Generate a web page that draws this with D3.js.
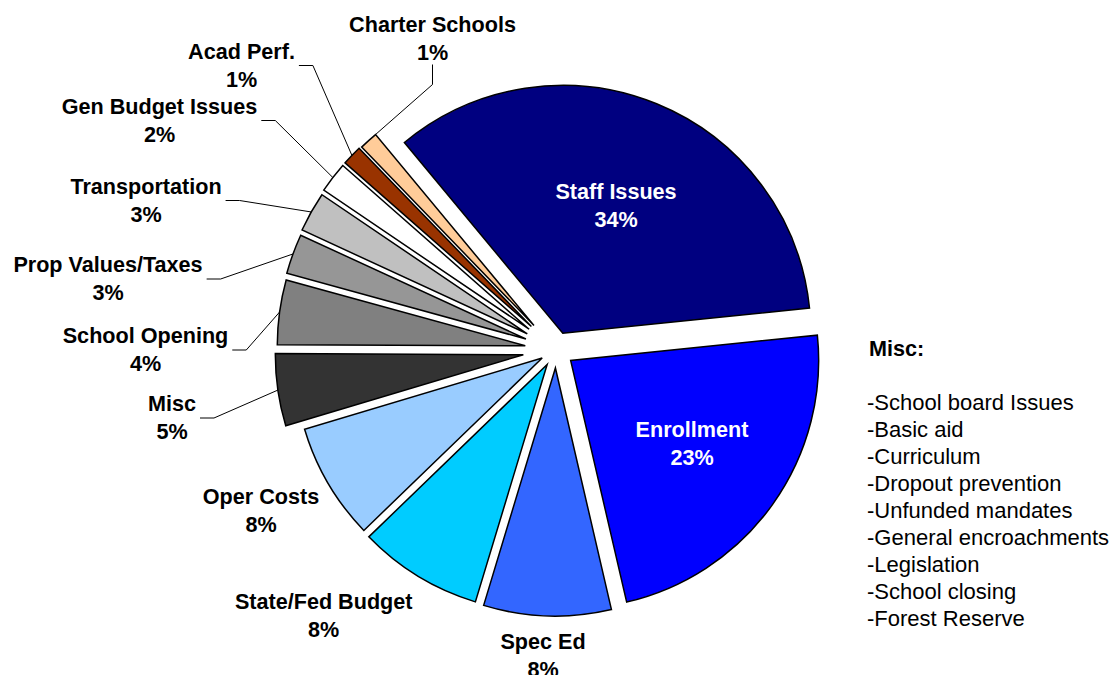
<!DOCTYPE html>
<html>
<head>
<meta charset="utf-8">
<style>
  body { margin: 0; background: #fff; font-family: "Liberation Sans", Arial, sans-serif; }
  svg { display: block; }
</style>
</head>
<body>
<script src="https://d3js.org/d3.v7.min.js"></script>
<script>
// slices, clockwise starting at the upper-left edge of "Staff Issues"
var categories = ["Staff Issues", "Enrollment", "Spec Ed", "State/Fed Budget", "Oper Costs", "Misc",
  "School Opening", "Prop Values/Taxes", "Transportation", "Gen Budget Issues", "Acad Perf.", "Charter Schools"];
var shares = [34.4, 23.0, 8.3, 8.1, 7.6, 4.7, 4.2, 2.6, 2.6, 2.0, 1.3, 1.2];

// side note
var noteTitle = "Misc:";
var noteItems = ["-School board Issues", "-Basic aid", "-Curriculum", "-Dropout prevention",
  "-Unfunded mandates", "-General encroachments", "-Legislation", "-School closing", "-Forest Reserve"];

// styling
var colors = ["#000080", "#0000ff", "#3366ff", "#00ccff", "#99ccff", "#333333",
  "#808080", "#969696", "#c0c0c0", "#ffffff", "#993300", "#ffcc99"];
var explode = [18, 18, 18, 17, 16, 33, 31, 32, 33, 34, 34, 33];

// label layout: centre x, first baseline, leader kind, text colour
var labelLayout = {
  "Staff Issues":      { x: 616,   y: 199,   fill: "#fff" },
  "Enrollment":        { x: 692,   y: 437,   fill: "#fff" },
  "Spec Ed":           { x: 543,   y: 649 },
  "State/Fed Budget":  { x: 323.7, y: 608.5 },
  "Oper Costs":        { x: 261,   y: 503.5 },
  "Misc":              { x: 172,   y: 411,   lead: "right" },
  "School Opening":    { x: 145.5, y: 343,   lead: "right" },
  "Prop Values/Taxes": { x: 108,   y: 272,   lead: "right" },
  "Transportation":    { x: 146,   y: 193.5, lead: "right" },
  "Gen Budget Issues": { x: 159.5, y: 113.5, lead: "right" },
  "Acad Perf.":        { x: 241.5, y: 58.5,  lead: "right" },
  "Charter Schools":   { x: 432.5, y: 31.5,  lead: "down" }
};

var width = 1112, height = 675;
var cx = 556, cy = 350, radius = 248;
var startDeg = -39.7;
var lineGap = 28;

var svg = d3.select("body").append("svg")
    .attr("width", width)
    .attr("height", height);

var total = d3.sum(shares);
var data = categories.map(function(c, i){ return { name: c, value: shares[i], i: i }; });

var pie = d3.pie()
    .sort(null)
    .value(function(d){ return d.value; })
    .startAngle(startDeg * Math.PI / 180)
    .endAngle(startDeg * Math.PI / 180 + 2 * Math.PI);

var arc = d3.arc().innerRadius(0).outerRadius(radius);

var arcs = pie(data);

function mid(d){ return (d.startAngle + d.endAngle) / 2; }

var g = svg.append("g").attr("transform", "translate(" + cx + "," + cy + ")");

g.selectAll(".slice")
    .data(arcs)
  .enter().append("path")
    .attr("class", "slice")
    .attr("transform", function(d){
      var o = explode[d.data.i], a = mid(d);
      return "translate(" + (o * Math.sin(a)) + "," + (-o * Math.cos(a)) + ")";
    })
    .attr("d", arc)
    .style("fill", function(d){ return colors[d.data.i]; })
    .style("stroke", "#000")
    .style("stroke-width", 1.5)
    .style("stroke-linejoin", "miter");

// labels
var labels = svg.selectAll(".lbl")
    .data(arcs)
  .enter().append("text")
    .attr("class", "lbl")
    .attr("text-anchor", "middle")
    .style("font-size", "21.6px")
    .style("font-weight", "bold")
    .style("fill", function(d){ return labelLayout[d.data.name].fill || "#000"; });

labels.append("tspan")
    .attr("x", function(d){ return labelLayout[d.data.name].x; })
    .attr("y", function(d){ return labelLayout[d.data.name].y; })
    .text(function(d){ return d.data.name; });

labels.append("tspan")
    .attr("x", function(d){ return labelLayout[d.data.name].x; })
    .attr("y", function(d){ return labelLayout[d.data.name].y + lineGap; })
    .text(function(d){ return Math.round(d.data.value / total * 100) + "%"; });

// leader lines
labels.each(function(d){
  var L = labelLayout[d.data.name];
  if (!L.lead) return;
  var bb = this.getBBox();
  var a = L.lead === "down" ? d.endAngle - 0.015 : mid(d);
  var rr = radius + explode[d.data.i];
  var ex = cx + rr * Math.sin(a), ey = cy - rr * Math.cos(a);
  var pts;
  if (L.lead === "right") {
    var sx = bb.x + bb.width + 4, sy = L.y + 7;
    pts = [[sx, sy], [sx + 14, sy], [ex, ey]];
  } else {
    var sx2 = L.x, sy2 = L.y + lineGap + 5;
    pts = [[sx2, sy2], [sx2, sy2 + 20], [ex, ey]];
  }
  svg.append("path")
      .attr("class", "leader")
      .attr("d", d3.line()(pts))
      .style("fill", "none")
      .style("stroke", "#000")
      .style("stroke-width", 1);
});

// note on the right
svg.append("text")
    .attr("x", 869)
    .attr("y", 356)
    .style("font-size", "21.6px")
    .style("font-weight", "bold")
    .text(noteTitle);

svg.selectAll(".note")
    .data(noteItems)
  .enter().append("text")
    .attr("class", "note")
    .attr("x", 867)
    .attr("y", function(d, i){ return 410 + i * 27; })
    .style("font-size", "22px")
    .style("fill", "#000")
    .text(function(d){ return d; });
</script>
</body>
</html>
